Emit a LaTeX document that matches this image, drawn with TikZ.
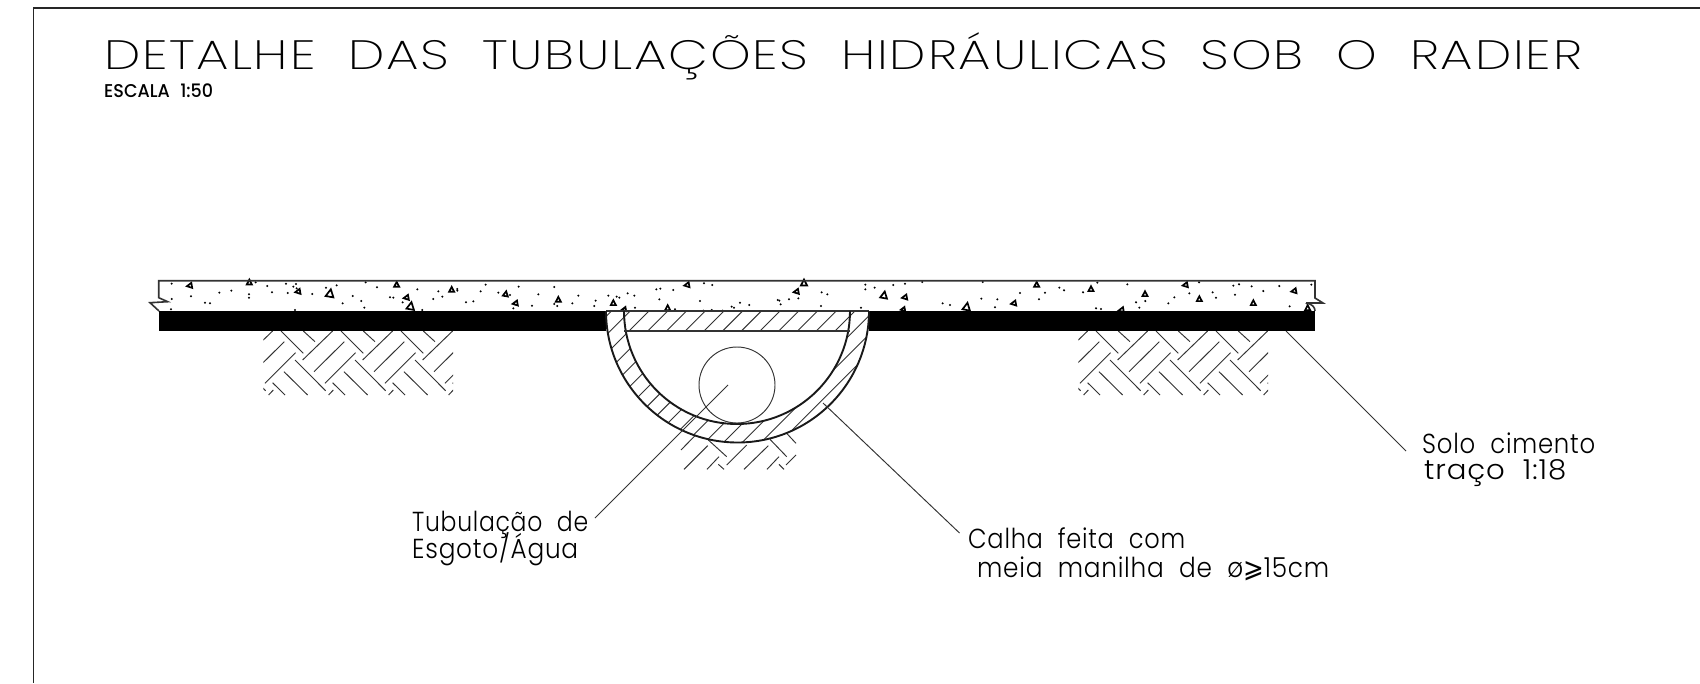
\documentclass[tikz,border=0pt]{standalone}
\usepackage{graphicx}
\usepackage{fontspec}
\setmainfont{Poppins Medium}
\newfontfamily\thinfont[LetterSpace=3.5]{Poppins ExtraLight}
\newfontfamily\labelfont[LetterSpace=3]{Poppins Light}
\newfontfamily\symfont{DejaVu Sans}
\tikzset{
  frameline/.style={line width=1.8pt,black!85},
  slabline/.style={line width=1.6pt,black!80},
  arcline/.style={line width=1.9pt,black!90},
  thinline/.style={line width=.95pt,black!80},
  hatchline/.style={line width=.9pt,black!80},
  labeltext/.style={inner sep=0pt,anchor=base west,font=\labelfont\fontsize{27.5}{28}\selectfont},
  tristyle/.style={line width=1.7pt,line join=miter,black},
}
\newcommand{\herring}[1]{%
  \begin{scope}[shift={(#1,331)}]
    \clip (0,0) rectangle (189.7,64);
    \foreach \k in {-1,0,1,2,3}{
      \begin{scope}[shift={({60*\k},0)}]
        \draw[thinline] (39.3,29)--(69.3,0) (50.7,40.7)--(81,10.7) (61.7,52.3)--(92.3,21.7) (65.3,64)--(70,59)
          (17.7,0)--(40,22.3) (40,0)--(51.7,10.7) (31.7,29)--(62.3,59.7) (20.7,40.7)--(44.3,64) (9.3,51.7)--(21.7,64);
      \end{scope}
    }
  \end{scope}}
\newcommand{\speckles}[4]{%
  \begin{scope}[shift={(#1,#2)},x=.33333pt,y=-.33333pt]
    \foreach \pa/\pb in {#3} \fill[black] (\pa,\pb) circle[radius=1.15pt];
    \foreach \pa/\pb/\pr/\ps in {#4} \draw[tristyle,shift={(\pa,\pb)},rotate=\pr] (90:\ps pt) -- (215:\ps pt) -- (325:\ps pt) -- cycle;
  \end{scope}}
\begin{document}
\begin{tikzpicture}[x=1pt,y=-1pt]
\useasboundingbox (0,0) rectangle (1700,683);
\fill[white] (0,0) rectangle (1700,683);
% frame
\draw[frameline] (1700,8) -- (33.5,8) -- (33.5,683);
% concrete speckles
\speckles{140}{260}{95/71,95/117,93/148,153/109,195/128,210/130,238/98,274/92,327/103,327/113,347/67,382/78,396/97,438/71,443/99,460/80,468/72,470/85,517/102,558/83,590/76,608/130,638/108,664/123,673/143,677/67,711/82,750/112,760/113,788/127,832/88,847/150,465/150,895/94,880/117,907/110,952/87,952/92,978/127,1000/124,1022/94,1037/74,1075/98,1110/105,1136/80,1120/145,1176/137,1195/103,1243/81,1243/132,1252/138}{150/77/100/3.1,328/68/0/3.1,475/95/100/3.1,570/102/-10/4.8,770/75/0/3.1,800/113/100/3.1,812/140/-10/4.6,935/90/0/3.1,1097/103/-10/3.1,1127/130/100/3.1,1255/120/0/3.1}
\speckles{540}{275}{115/62,97/85}{}
\speckles{580}{270}{47/92,43/108,85/77,110/80,118/83,143/70,163/77,165/113,229/58,241/56,238/88,280/60,285/118,360/93,372/40,397/45,370/122,395/120,428/122,455/110,462/113,480/98,508/105,593/90,598/92,602/103,627/88,655/85,723/108,725/67,742/73,843/113,856/44,856/58,884/53,940/45}{322/45/100/3.1,100/100/0/3.1,133/118/100/2.6,263/115/0/3.1,672/40/0/3.8,650/65/100/3.1,912/77/-10/4.2}
\speckles{890}{270}{45/41,97/36,158/100,180/105,274/86,322/88,315/112,390/69,465/68,447/88,278/36}{45/82/100/3.1,230/112/-10/4.6,372/100/100/3.1,440/45/0/3.1,40/118/100/2.6}
\speckles{1050}{270}{28/53,42/61,99/67,142/38,138/115,153/117,232/43,258/97,286/93,268/113,355/100,373/82,418/70,447/37,488/67,498/83,550/47,567/43,605/49,640/63,555/74,688/48,784/44,719/109,770/100}{123/58/0/3.1,285/73/0/3.1,215/120/100/3.1,407/45/100/3.1,448/88/0/3.1,610/100/0/3.1,733/63/100/3.1,773/115/0/3.1}
% slab outline with break marks
\draw[slabline] (159,311) -- (150,302.7) -- (167.7,301.7) -- (158.7,297.7) -- (158.7,280.7) -- (1315,280.7) -- (1315,298) -- (1323,303) -- (1306,303);
\draw[slabline] (1306,303) .. controls (1312,304) and (1315,307) .. (1315,311);
% black soil-cement layer
\fill[black] (158.7,310.5) rectangle (606,331);
\fill[black] (869,310.5) rectangle (1315,331);
\draw[slabline] (606,311) -- (869,311);
% soil patches
\herring{263.3}
\herring{1078.3}
\begin{scope}[shift={(580,270)},x=.33333pt,y=-.33333pt]
  \draw[thinline] (303,540)--(345,497) (312,598)--(383,527) (381,598)--(417,560) (440,585)--(500,525)
    (492,598)--(565,527) (561,598)--(597,560) (618,585)--(648,555)
    (385,510)--(440,560) (570,508)--(620,560) (620,490)--(648,520) (415,583)--(432,598) (597,583)--(612,598);
\end{scope}
% hatching of half pipe
\begin{scope}
  \clip (606,311) arc[start angle=180,end angle=360,radius=131.5pt] -- (850,311) arc[start angle=360,end angle=180,radius=113pt] -- cycle
        (624,311) rectangle (850,331);
  \foreach \k in {-6,...,22}
    \draw[hatchline] ({978.7+18.73*\k-470},470) -- ({978.7+18.73*\k-300},300);
\end{scope}
% half pipe
\draw[arcline] (606,311) arc[start angle=180,end angle=360,radius=131.5pt];
\draw[arcline] (624,311) arc[start angle=180,end angle=360,radius=113pt];
\draw[slabline] (624,330.7) -- (850,330.7);
% pipe
\draw[thinline] (737,385) circle[radius=38pt];
% leaders
\coordinate (pipeA) at (728,385);
\coordinate (pipeB) at (595,518);
\coordinate (calhaA) at (823,403);
\coordinate (calhaB) at (959.5,533);
\coordinate (soloA) at (1286,331);
\coordinate (soloB) at (1406,451);
\draw[thinline] (pipeA) -- (pipeB);
\draw[thinline] (calhaA) -- (calhaB);
\draw[thinline] (soloA) -- (soloB);
% texts
\node[inner sep=0pt,anchor=base west] (title) at (104,69) {\resizebox{1478pt}{\height}{\thinfont\fontsize{41}{41}\selectfont DETALHE\hspace{26pt}DAS\hspace{26pt}TUBULAÇÕES\hspace{26pt}HIDRÁULICAS\hspace{26pt}SOB\hspace{26pt}O\hspace{26pt}RADIER}};
\node[inner sep=0pt,anchor=base west] (escala) at (104,97) {\resizebox{109pt}{\height}{\fontsize{18.5}{19}\selectfont ESCALA\hspace{11pt}1:50}};
\node[labeltext] (tub1) at (412,531) {\resizebox{176pt}{\height}{Tubulação\hspace{17pt}de}};
\node[labeltext] (tub2) at (412,558) {\resizebox{166pt}{\height}{Esgoto/Água}};
\node[labeltext] (cal1) at (968,548) {\resizebox{217pt}{\height}{Calha\hspace{17pt}feita\hspace{17pt}com}};
\node[labeltext] (cal2) at (977,577) {\resizebox{352pt}{\height}{meia\hspace{17pt}manilha\hspace{17pt}de\hspace{17pt}ø{\symfont ⩾}15cm}};
\node[labeltext] (sol1) at (1422,453) {\resizebox{173pt}{\height}{Solo\hspace{17pt}cimento}};
\node[labeltext] (sol2) at (1424,479) {\resizebox{142pt}{\height}{traço\hspace{17pt}1:18}};
\end{tikzpicture}
\end{document}
